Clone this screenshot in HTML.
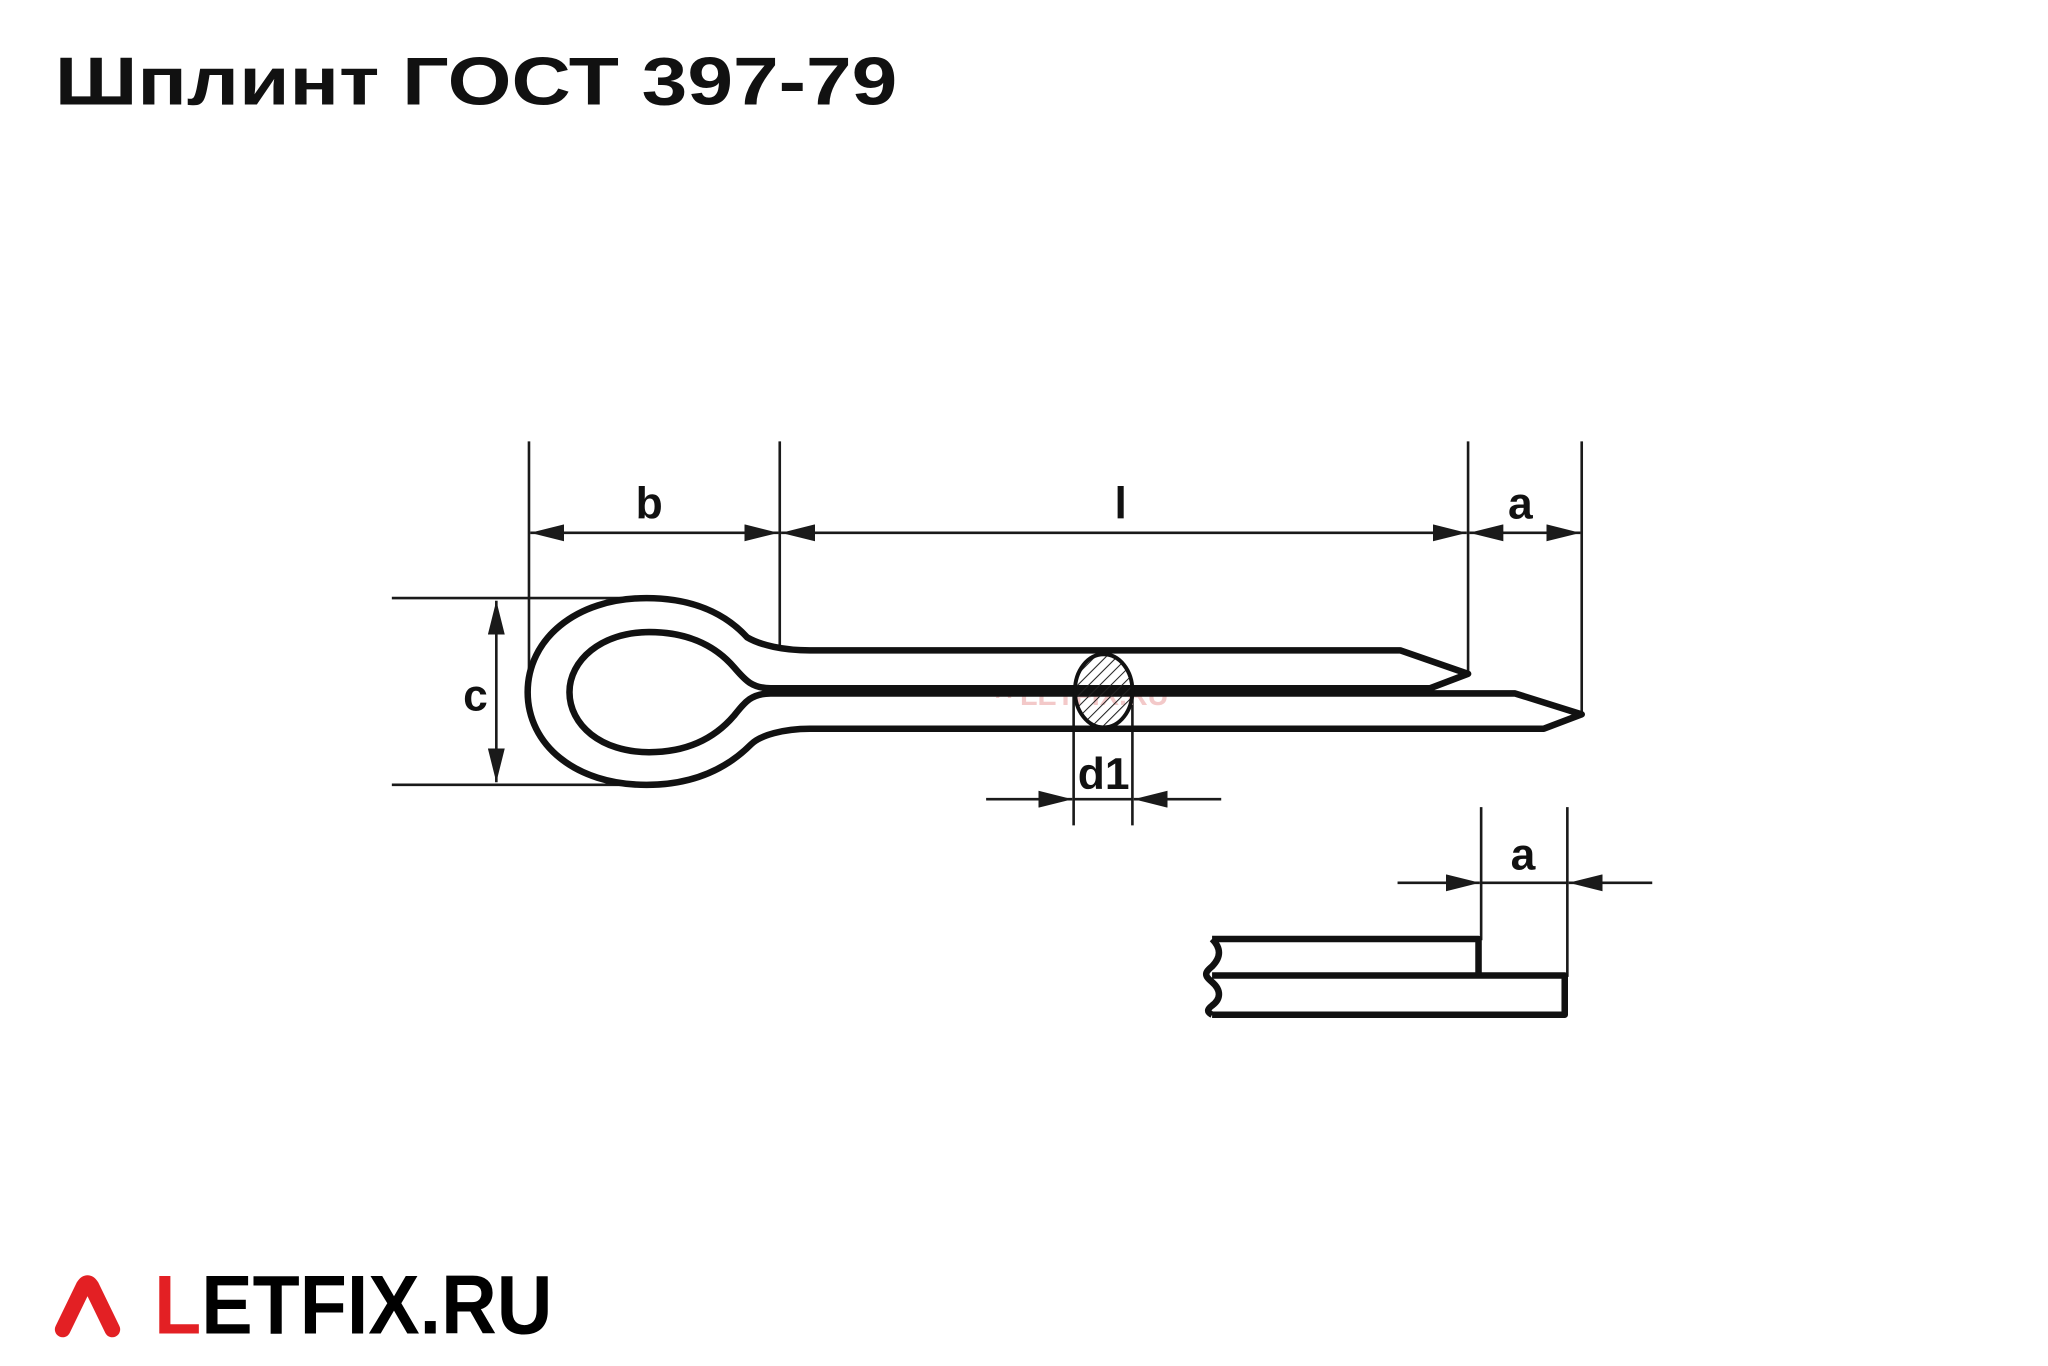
<!DOCTYPE html>
<html><head><meta charset="utf-8"><style>
html,body{margin:0;padding:0;background:#fff;}
svg{display:block;}
text{font-family:"Liberation Sans",sans-serif;}
</style></head><body>
<svg width="2048" height="1366" viewBox="0 0 1568 1046" preserveAspectRatio="none" xmlns="http://www.w3.org/2000/svg">
<defs>
<marker id="ar" viewBox="0 0 20 10" refX="20" refY="5" markerWidth="26" markerHeight="13" markerUnits="userSpaceOnUse" orient="auto-start-reverse">
<path d="M0,0 L20,5 L0,10 Z" fill="#1a1a1a"/></marker>
<pattern id="hat" width="6" height="6" patternUnits="userSpaceOnUse" patternTransform="rotate(45)">
<line x1="0" y1="0" x2="0" y2="6" stroke="#222" stroke-width="1.6"/></pattern>
</defs>
<text x="42" y="80" font-size="52" font-weight="bold" fill="#111" textLength="645" lengthAdjust="spacingAndGlyphs">Шплинт ГОСТ 397-79</text>

<g stroke="#1a1a1a" stroke-width="2" fill="none">
<line x1="405" y1="338" x2="405" y2="512"/>
<line x1="597" y1="338" x2="597" y2="496"/>
<line x1="1124" y1="338" x2="1124" y2="518"/>
<line x1="1211" y1="338" x2="1211" y2="548"/>
<line x1="300" y1="458" x2="495" y2="458"/>
<line x1="300" y1="601" x2="495" y2="601"/>
<line x1="406" y1="408" x2="596" y2="408" marker-start="url(#ar)" marker-end="url(#ar)"/>
<line x1="598" y1="408" x2="1123" y2="408" marker-start="url(#ar)" marker-end="url(#ar)"/>
<line x1="1125" y1="408" x2="1210" y2="408" marker-start="url(#ar)" marker-end="url(#ar)"/>
<line x1="380" y1="460" x2="380" y2="599" marker-start="url(#ar)" marker-end="url(#ar)"/>
<line x1="822" y1="530" x2="822" y2="632"/>
<line x1="867" y1="530" x2="867" y2="632"/>
<line x1="755" y1="612" x2="821" y2="612" marker-end="url(#ar)"/>
<line x1="935" y1="612" x2="868" y2="612" marker-end="url(#ar)"/>
<line x1="822" y1="612" x2="867" y2="612"/>
<line x1="1134" y1="618" x2="1134" y2="720"/>
<line x1="1200" y1="618" x2="1200" y2="748"/>
<line x1="1070" y1="676" x2="1133" y2="676" marker-end="url(#ar)"/>
<line x1="1265" y1="676" x2="1201" y2="676" marker-end="url(#ar)"/>
<line x1="1134" y1="676" x2="1200" y2="676"/>
</g>

<g font-size="34" font-weight="bold" fill="#111" text-anchor="middle">
<text x="497" y="397">b</text>
<text x="858" y="397">l</text>
<text x="1164" y="397">a</text>
<text x="364" y="544">c</text>
<text x="845" y="604">d1</text>
<text x="1166" y="666">a</text>
</g>

<text x="762" y="540" font-size="22" font-weight="bold" fill="#f3c9c9">^ LETFIX.RU</text>

<g stroke="#111" stroke-width="5" fill="none" stroke-linejoin="round">
<path d="M620,498 L1072,498 L1124,516 L1095,527 L590,527 C575,527 570,520 562,511 C550,497 530,484 497,484 C460,484 436,506 436,530 C436,555 460,576 497,576 C530,576 550,562 562,548 C570,538 575,531 590,531 L1160,531 L1211,547 L1182,558 L620,558 C600,558 582,563 575,570 C550,595 520,601 495,601 C440,601 404,570 404,530 C404,490 440,458 495,458 C520,458 550,464 572,488 C582,494 600,498 620,498 Z"/>
<path d="M928,719 L1132,719 L1132,747 M928,747 L1198,747 L1198,777 L928,777 M928,719 C935,726 935,733 928,740 C922,745 922,747 928,752 C935,758 935,765 928,770 C924,773 924,775 928,777"/>
</g>
<ellipse cx="845" cy="529" rx="22" ry="28" fill="url(#hat)" stroke="#111" stroke-width="3"/>

<path d="M48,1018 L64,985 Q67,980 70,985 L86,1018" stroke="#e32024" stroke-width="12" stroke-linecap="round" stroke-linejoin="round" fill="none"/>
<text x="118" y="1021" font-size="64" font-weight="bold" textLength="305" lengthAdjust="spacingAndGlyphs"><tspan fill="#e32024">L</tspan><tspan fill="#000">ETFIX.RU</tspan></text>
</svg>
</body></html>
